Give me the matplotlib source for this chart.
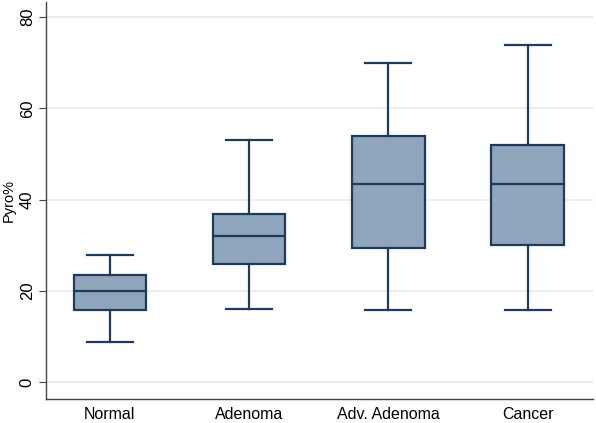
import matplotlib.pyplot as plt

# Box plot summary values
groups = ["Normal", "Adenoma", "Adv. Adenoma", "Cancer"]
lower_whisker = [8.8, 16.0, 15.7, 15.9]
q1 = [15.9, 25.9, 29.4, 30.0]
median = [20.0, 32.0, 43.5, 43.4]
q3 = [23.5, 36.9, 54.0, 51.9]
upper_whisker = [27.9, 53.0, 69.9, 73.8]
y_ticks = [0, 20, 40, 60, 80]

fill = "#8FA5BC"
edge = "#1F3B5C"

plt.rcParams["font.family"] = ["Liberation Sans", "DejaVu Sans"]


def main():
    stats = []
    for i, name in enumerate(groups):
        stats.append(
            {
                "label": name,
                "whislo": lower_whisker[i],
                "q1": q1[i],
                "med": median[i],
                "q3": q3[i],
                "whishi": upper_whisker[i],
                "fliers": [],
            }
        )

    fig, ax = plt.subplots(figsize=(5.96, 4.23), dpi=100)
    fig.subplots_adjust(left=0.077, right=0.995, top=0.995, bottom=0.057)

    ax.bxp(
        stats,
        positions=[1, 2, 3, 4],
        widths=0.52,
        capwidths=0.33,
        patch_artist=True,
        showfliers=False,
        boxprops=dict(facecolor=fill, edgecolor=edge, linewidth=1.6),
        medianprops=dict(color=edge, linewidth=1.6),
        whiskerprops=dict(color=edge, linewidth=1.6),
        capprops=dict(color=edge, linewidth=1.6),
    )

    ax.set_xlim(0.54, 4.47)
    ax.set_ylim(-3.7, 83.3)
    ax.set_yticks(y_ticks)
    ax.set_yticklabels([str(t) for t in y_ticks], rotation=90, va="center")
    ax.yaxis.grid(True, color="#EAEAEA", linewidth=1.2)
    ax.set_axisbelow(True)
    ax.set_ylabel("Pyro%", fontsize=10.5, labelpad=3)

    ax.tick_params(axis="y", labelsize=12, length=5, color="#444444", pad=3)
    ax.tick_params(axis="x", labelsize=11.5, length=0, pad=6)
    for side in ["top", "right"]:
        ax.spines[side].set_visible(False)
    for side in ["left", "bottom"]:
        ax.spines[side].set_color("#444444")
        ax.spines[side].set_linewidth(1.0)

    fig.savefig("out.png", dpi=100)
    plt.close(fig)


if __name__ == "__main__":
    main()
